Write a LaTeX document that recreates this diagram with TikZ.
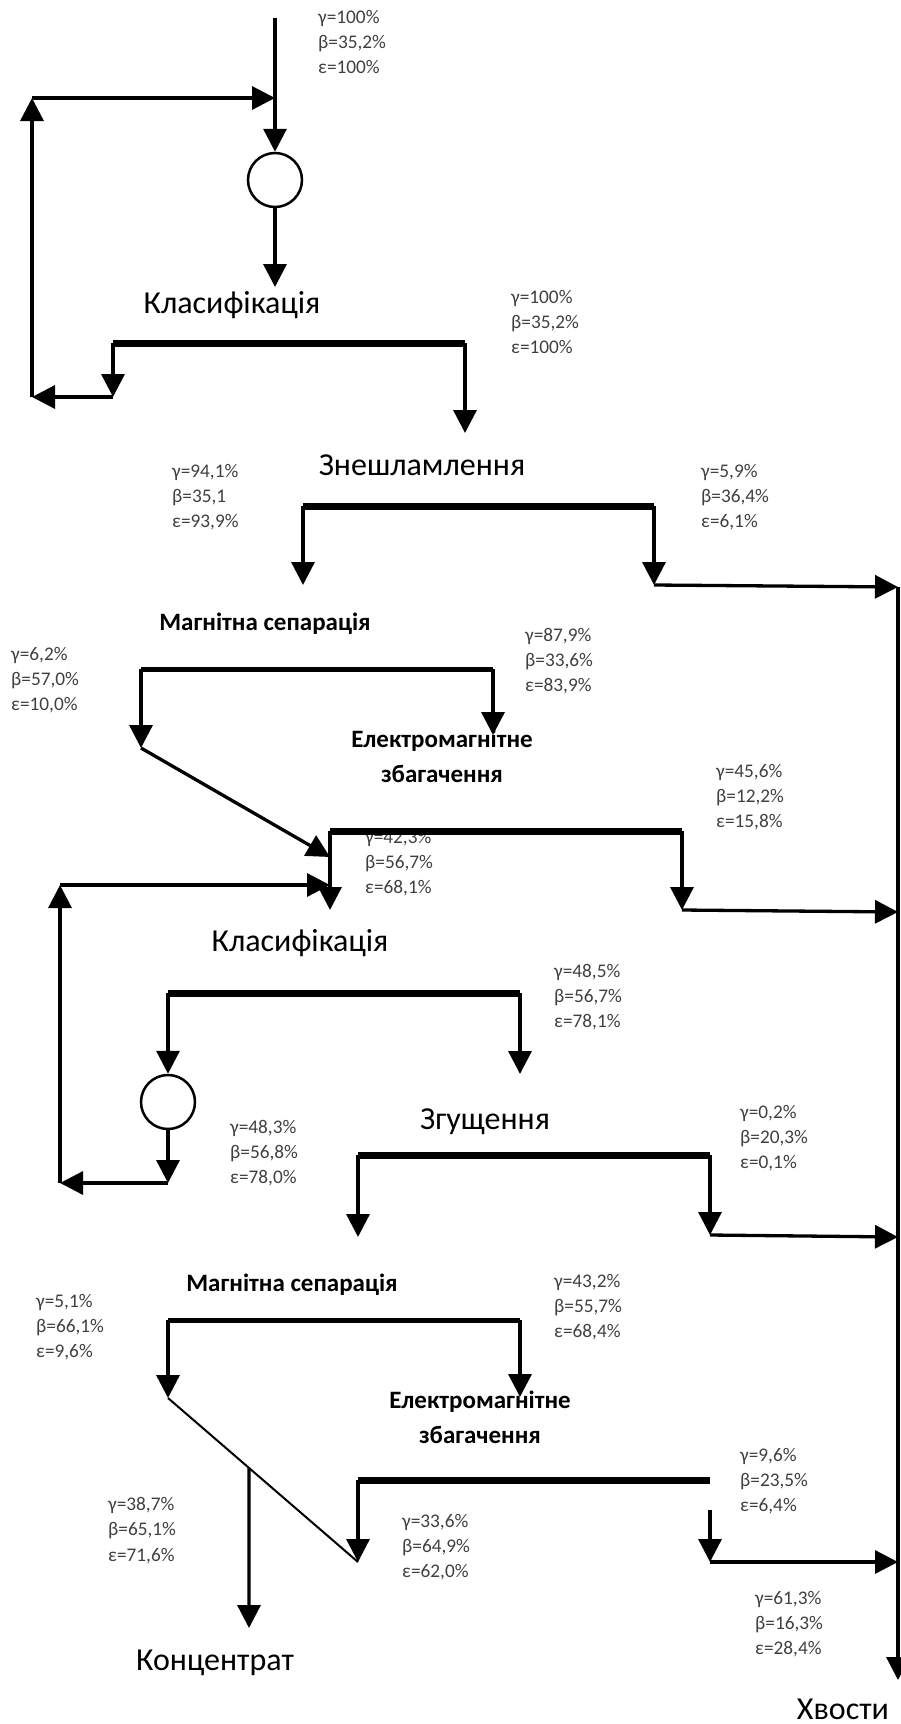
\documentclass[tikz,border=0pt]{standalone}
\usepackage{fontspec}
\setmainfont{Carlito}
\usepackage{tikz}
\usetikzlibrary{arrows.meta,calc}

\begin{document}
\begin{tikzpicture}[x=1pt,y=-1pt,
  stream/.style={-{Triangle[length=23pt,width=23pt]},line width=3.3pt},
  thinstream/.style={line width=2pt},
  thickbar/.style={line width=7pt},
  thinbar/.style={line width=5pt},
  mill/.style={draw,circle,line width=2.5pt,minimum size=54pt,inner sep=0pt},
  figs/.style={anchor=north west,inner sep=0pt,align=left,text=black!75,font=\fontsize{19.3}{25.3}\selectfont},
  opname/.style={inner sep=0pt,font=\fontsize{32}{38}\selectfont},
  opbold/.style={inner sep=0pt,align=center,font=\bfseries\fontsize{25}{35}\selectfont}
]
\useasboundingbox (0,0) rectangle (900,1724);

% classification I with mill
\coordinate (feed) at (275,18);
\node[mill] (m1) at (275,180) {};
\coordinate (j1) at (275,98);
\coordinate (r1t) at (32,98);
\coordinate (r1b) at (32,397);
\coordinate (c1in) at (275,287);
\coordinate (c1l) at (113,343);
\coordinate (c1r) at (465,343);
\coordinate (c1u) at (113,397);
\coordinate (c1o) at (465,433);
\node[figs] (s1) at (318,10) {γ=100\%\\β=35,2\%\\ε=100\%};
\node[opname] (cls1) at (232,305) {Класифікація};
\node[figs] (s2) at (511,290) {γ=100\%\\β=35,2\%\\ε=100\%};
\draw[stream] (feed) -- (m1);
\draw[stream] (m1) -- (c1in);
\draw[thickbar] (c1l) -- (c1r);
\draw[stream] (c1l) -- (c1u);
\draw[stream] (c1r) -- (c1o);
\draw[stream] (c1u) -- (r1b);
\draw[stream] (r1b) -- (r1t);
\draw[stream] (r1t) -- (j1);

% desliming
\coordinate (d1l) at (303,506);
\coordinate (d1r) at (654,506);
\coordinate (d1u) at (303,585);
\coordinate (d1o) at (654,585);
\coordinate (t1) at (898,587);
\node[opname] (desl) at (422,465) {Знешламлення};
\node[figs] (s3) at (172,464) {γ=94,1\%\\β=35,1\\ε=93,9\%};
\node[figs] (s4) at (701,464) {γ=5,9\%\\β=36,4\%\\ε=6,1\%};
\draw[thickbar] (d1l) -- (d1r);
\draw[stream] (d1l) -- (d1u);
\draw[stream] (d1r) -- (d1o);
\draw[stream] (d1o) -- (t1);

% magnetic separation I
\coordinate (ms1l) at (141,669);
\coordinate (ms1r) at (493,669);
\coordinate (ms1u) at (141,748);
\coordinate (ms1o) at (493,735);
\node[opbold] (msep1) at (265,624) {Магнітна сепарація};
\node[figs] (s5) at (11,647) {γ=6,2\%\\β=57,0\%\\ε=10,0\%};
\node[figs] (s6) at (525,628) {γ=87,9\%\\β=33,6\%\\ε=83,9\%};
\draw[thinbar] (ms1l) -- (ms1r);
\draw[stream] (ms1l) -- (ms1u);
\draw[stream] (ms1r) -- (ms1o);
\node[opbold] (emag1) at (442,756) {Електромагнітне\\збагачення};

% electromagnetic I
\coordinate (em1l) at (330,831);
\coordinate (em1r) at (682,831);
\coordinate (em1u) at (330,910);
\coordinate (em1o) at (682,910);
\coordinate (t2) at (898,912);
\coordinate (j2) at (330,857);
\coordinate (j3) at (330,885);
\coordinate (r2t) at (60,885);
\coordinate (r2b) at (60,1183);
\node[figs] (s7) at (716,764) {γ=45,6\%\\β=12,2\%\\ε=15,8\%};
\node[figs] (s8) at (365,830) {γ=42,3\%\\β=56,7\%\\ε=68,1\%};
\draw[stream] (ms1u) -- (j2);
\draw[thickbar] (em1l) -- (em1r);
\draw[stream] (em1l) -- (em1u);
\draw[stream] (em1r) -- (em1o);
\draw[stream] (em1o) -- (t2);
\draw[stream] (r2b) -- (r2t);
\draw[stream] (r2t) -- (j3);

% classification II with mill
\coordinate (c2l) at (168,993);
\coordinate (c2r) at (520,993);
\coordinate (c2o) at (520,1074);
\node[mill] (m2) at (168,1102) {};
\coordinate (c2u) at (168,1183);
\node[opname] (cls2) at (300,943) {Класифікація};
\node[figs] (s9) at (554,964) {γ=48,5\%\\β=56,7\%\\ε=78,1\%};
\node[figs] (s10) at (230,1120) {γ=48,3\%\\β=56,8\%\\ε=78,0\%};
\draw[thickbar] (c2l) -- (c2r);
\draw[stream] (c2l) -- (m2);
\draw[stream] (m2) -- (c2u);
\draw[stream] (c2u) -- (r2b);
\draw[stream] (c2r) -- (c2o);

% thickening
\coordinate (th1l) at (358,1155);
\coordinate (th1r) at (710,1155);
\coordinate (th1u) at (358,1237);
\coordinate (th1o) at (710,1235);
\coordinate (t3) at (898,1237);
\node[opname] (thick) at (485,1122) {Згущення};
\node[figs] (s11) at (740,1105) {γ=0,2\%\\β=20,3\%\\ε=0,1\%};
\draw[thickbar] (th1l) -- (th1r);
\draw[stream] (th1l) -- (th1u);
\draw[stream] (th1r) -- (th1o);
\draw[stream] (th1o) -- (t3);

% magnetic separation II
\coordinate (ms2l) at (168,1320);
\coordinate (ms2r) at (520,1320);
\coordinate (ms2u) at (168,1398);
\coordinate (ms2o) at (520,1397);
\node[opbold] (msep2) at (292,1285) {Магнітна сепарація};
\node[figs] (s12) at (36,1294) {γ=5,1\%\\β=66,1\%\\ε=9,6\%};
\node[figs] (s13) at (554,1274) {γ=43,2\%\\β=55,7\%\\ε=68,4\%};
\draw[thinbar] (ms2l) -- (ms2r);
\draw[stream] (ms2l) -- (ms2u);
\draw[stream] (ms2r) -- (ms2o);
\node[opbold] (emag2) at (480,1417) {Електромагнітне\\збагачення};

% electromagnetic II and products
\coordinate (em2l) at (358,1480);
\coordinate (em2r) at (710,1480);
\coordinate (em2u) at (358,1562);
\coordinate (em2s) at (710,1510);
\coordinate (em2o) at (710,1562);
\coordinate (t4) at (898,1562);
\coordinate (tt) at (898,587);
\coordinate (tb) at (898,1680);
\coordinate (k1) at ($(ms2u)!0.426!(em2u)$);
\coordinate (k2) at (249,1628);
\node[figs] (s14) at (108,1497) {γ=38,7\%\\β=65,1\%\\ε=71,6\%};
\node[figs] (s15) at (740,1448) {γ=9,6\%\\β=23,5\%\\ε=6,4\%};
\node[figs] (s16) at (402,1514) {γ=33,6\%\\β=64,9\%\\ε=62,0\%};
\node[figs] (s17) at (755,1591) {γ=61,3\%\\β=16,3\%\\ε=28,4\%};
\node[opname] (conc) at (215,1663) {Концентрат};
\node[opname] (tail) at (843,1709) {Хвости};
\draw[thinstream] (ms2u) -- (em2u);
\draw[stream] (k1) -- (k2);
\draw[thickbar] (em2l) -- (em2r);
\draw[stream] (em2l) -- (em2u);
\draw[stream] (em2s) -- (em2o);
\draw[stream] (em2o) -- (t4);
\draw[stream] (tt) -- (tb);
\end{tikzpicture}
\end{document}
